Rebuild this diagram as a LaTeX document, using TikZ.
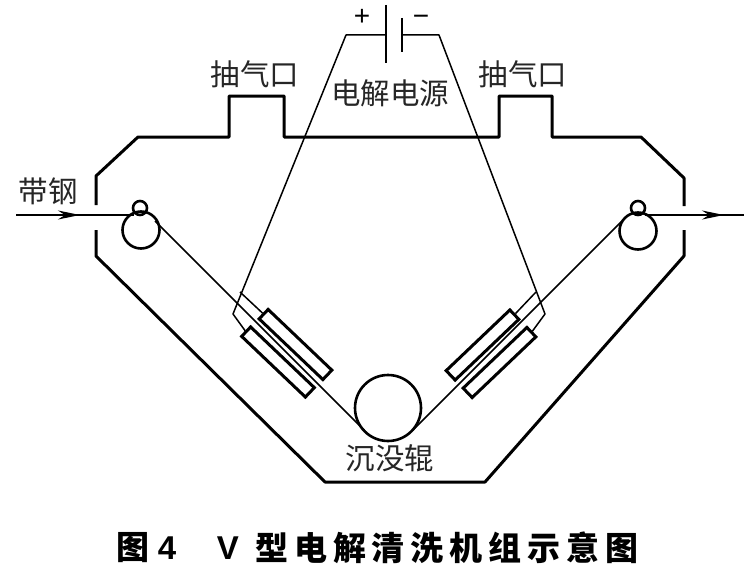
\documentclass[tikz,border=0pt]{standalone}
\usepackage{fontspec}
\newfontfamily\cjk{Noto Sans CJK SC}
\newfontfamily\cjkt{Noto Sans CJK SC}[LetterSpace=18]
\usetikzlibrary{arrows.meta}
\tikzset{
  wall/.style={line width=3pt,line join=round},
  thinwire/.style={line width=1.5pt,line join=round},
  plate/.style={line width=3pt,rectangle,draw,minimum width=88pt,minimum height=13pt,inner sep=0pt},
  roller/.style={circle,draw,line width=2.6pt,inner sep=0pt},
  lab/.style={font=\cjk\fontsize{29.5}{30}\selectfont,inner sep=0pt,text=black!85},
  sign/.style={font=\fontspec{Liberation Sans}\fontsize{28}{28}\selectfont,inner sep=0pt,anchor=base},
  title/.style={font=\cjkt\bfseries\fontsize{33}{33}\selectfont,inner sep=0pt},
  titlel/.style={font=\fontspec{Liberation Sans}\bfseries\fontsize{33}{33}\selectfont,inner sep=0pt},
  flow/.style={-{Stealth[length=22pt,width=9pt,inset=7pt]},line width=1.5pt}
}
\begin{document}
\begin{tikzpicture}[x=1pt,y=-1pt]
\useasboundingbox (0,0) rectangle (744,586);
\fill[white] (0,0) rectangle (744,586);
% chamber
\draw[wall] (96,205) -- (96,176) -- (138,137) -- (229,137) -- (229,96) -- (284,96) -- (284,137) -- (499,137) -- (499,96) -- (552,96) -- (552,137) -- (641,137) -- (684,178) -- (684,206);
\draw[wall] (96,230) -- (96,256) -- (325,482) -- (485,482) -- (684,256) -- (684,230);
% rollers
\node[roller,minimum size=37pt] (rl) at (141,230) {};
\node[roller,minimum size=14pt] (sl) at (140,208) {};
\node[roller,minimum size=37pt] (rr) at (638,231) {};
\node[roller,minimum size=14pt] (sr) at (638,208) {};
\node[roller,minimum size=66pt] (sink) at (388,408) {};
% plates
\node[plate,rotate=-43.6] (p1) at (295.5,344.5) {};
\node[plate,rotate=-43.6] (p2) at (278,362) {};
\node[plate,rotate=43.6] (p3) at (482.5,345) {};
\node[plate,rotate=43.6] (p4) at (499.5,362.5) {};
% strip
\coordinate (inS) at (16,215);
\coordinate (inA) at (80,215);
\coordinate (inB) at (76,215);
\coordinate (inE) at (134,215);
\coordinate (outS) at (645,215);
\coordinate (outA) at (724,215);
\coordinate (outB) at (720,215);
\coordinate (outE) at (744,215);
\coordinate (lt) at (155,221);
\coordinate (lb) at (365,431);
\coordinate (rb) at (412,431);
\coordinate (rt) at (622,221);
\draw[flow] (inS) -- (inA);
\draw[thinwire] (inB) -- (inE);
\draw[thinwire] (lt) -- (lb);
\draw[thinwire] (rb) -- (rt);
\draw[flow] (outS) -- (outA);
\draw[thinwire] (outB) -- (outE);
% power
\coordinate (a) at (346,35);
\coordinate (b) at (439,35);
\coordinate (ca) at (386,35);
\coordinate (cb) at (402,35);
\coordinate (lk) at (233,314);
\coordinate (lj) at (240,292);
\coordinate (rk) at (545,314);
\coordinate (rj) at (536,292);
\draw[thinwire] (ca) -- (a) -- (lk) -- (p2.west);
\draw[thinwire] (lj) -- (p1.west);
\draw[thinwire] (cb) -- (b) -- (rk) -- (p4.east);
\draw[thinwire] (rj) -- (p3.east);
\coordinate (c1t) at (386,5);
\coordinate (c1b) at (386,63);
\coordinate (c2t) at (402,18);
\coordinate (c2b) at (402,52);
\draw[line width=2pt] (c1t) -- (c1b);
\draw[line width=2pt] (c2t) -- (c2b);
\node[sign] (plus) at (362,26) {+};
\node[sign] (minus) at (421,26) {−};
% labels
\node[lab] (v1) at (255,74) {抽气口};
\node[lab] (v2) at (523,74) {抽气口};
\node[lab] (psu) at (390,93) {电解电源};
\node[lab] (st) at (48,191) {带钢};
\node[lab] (sk) at (390,458) {沉没辊};
\node[title,anchor=west] (t1) at (116,548) {图};
\node[titlel] (t2) at (167,548) {4};
\node[titlel] (t3) at (228,548) {V};
\node[title,anchor=west] (t4) at (255,548) {型电解清洗机组示意图};
\end{tikzpicture}
\end{document}
